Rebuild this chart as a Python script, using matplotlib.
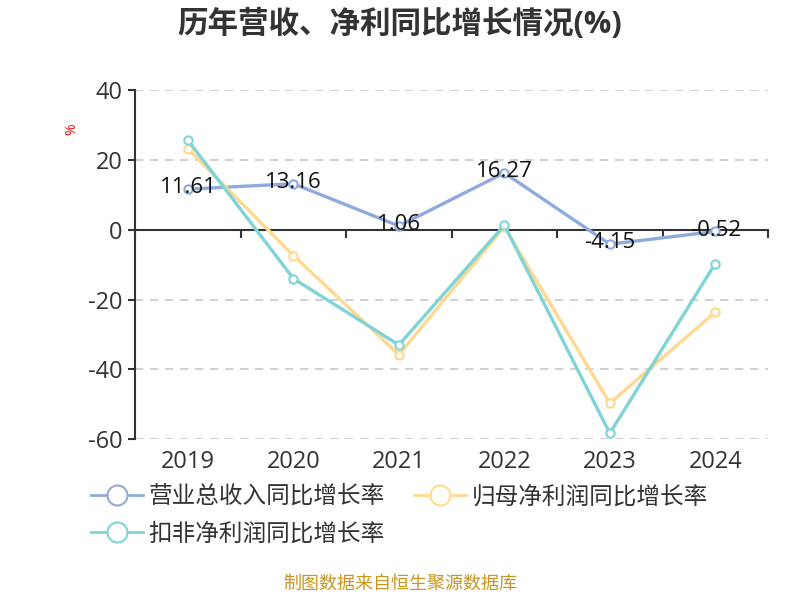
import matplotlib.pyplot as plt
import numpy as np

plt.rcParams['font.family'] = ['Open Sans', 'Noto Sans CJK SC', 'DejaVu Sans']
plt.rcParams['axes.unicode_minus'] = False

years = ['2019', '2020', '2021', '2022', '2023', '2024']
revenue_growth = [11.61, 13.16, 1.06, 16.27, -4.15, -0.52]
net_profit_growth = [23.2, -7.4, -35.8, 0.8, -49.7, -23.6]
deducted_profit_growth = [25.6, -14.0, -33.0, 1.3, -58.3, -9.7]

series_names = ['营业总收入同比增长率', '归母净利润同比增长率', '扣非净利润同比增长率']
colors = ['#8FAADC', '#FFD990', '#80D4D6']

fig = plt.figure(figsize=(8, 6), dpi=100)
ax = fig.add_axes([0.169, 0.268, 0.791, 0.582])

x = np.arange(len(years))
all_series = [revenue_growth, net_profit_growth, deducted_profit_growth]
handles = []
for vals, name, c in zip(all_series, series_names, colors):
    h, = ax.plot(x, vals, color=c, linewidth=2.4, marker='o', markersize=6,
                 markerfacecolor='white', markeredgecolor=c, markeredgewidth=1.5,
                 label=name, zorder=3)
    handles.append(h)

# labels on the revenue series
for xi, v in zip(x, revenue_growth):
    ax.annotate(f'{v:.2f}', (xi, v), xytext=(0, 1), textcoords='offset points',
                ha='center', va='center', fontsize=16, color='#111111', zorder=4)

ax.set_xlim(-0.5, len(years) - 0.5)
ax.set_ylim(-60, 40)
ax.set_yticks([-60, -40, -20, 0, 20, 40])
for yv in [-60, -40, -20, 20, 40]:
    ax.axhline(yv, color='#C8C8C8', linestyle=(0, (5, 4)), linewidth=1.2, zorder=1)

# x axis line at zero with boundary ticks, year labels below the plot
ax.spines['right'].set_visible(False)
ax.spines['bottom'].set_visible(False)
ax.spines['top'].set_position(('data', 0))
ax.spines['top'].set_color('#333333')
ax.spines['top'].set_linewidth(1.5)
ax.spines['left'].set_color('#333333')
ax.spines['left'].set_linewidth(1.5)

ax.set_xticks(np.arange(len(years) + 1) - 0.5)
ax.set_xticks(x, minor=True)
ax.set_xticklabels(years, minor=True)
ax.tick_params(axis='x', which='major', bottom=False, top=True, direction='in',
               length=6, width=1.5, color='#333333', labelbottom=False, labeltop=False)
ax.tick_params(axis='x', which='minor', bottom=False, top=False, labelbottom=True,
               labelsize=17, labelcolor='#333333', pad=6)
ax.tick_params(axis='y', length=5, width=1.5, color='#333333', labelsize=17,
               labelcolor='#333333', pad=4)

fig.text(0.09, 0.785, '%', color='red', rotation=90, fontsize=10, ha='center', va='center')

fig.suptitle('历年营收、净利同比增长情况(%)', fontsize=22, fontweight='bold',
             color='#333333', y=0.985)

# row-wise order: first row revenue + net profit, second row deducted profit
order = [0, 2, 1]
leg = fig.legend([handles[i] for i in order], [series_names[i] for i in order],
                 loc='upper left', bbox_to_anchor=(0.087, 0.226),
                 ncol=2, frameon=False, fontsize=17, handlelength=2.2,
                 columnspacing=1.25, handletextpad=0.25, labelspacing=0.55,
                 labelcolor='#333333', markerscale=2.4)
for h in leg.legend_handles:
    h.set_linewidth(2)

fig.text(0.5, 0.012, '制图数据来自恒生聚源数据库', color='#C8961E', fontsize=13,
         ha='center', va='bottom')

fig.savefig('out.png', dpi=100)
